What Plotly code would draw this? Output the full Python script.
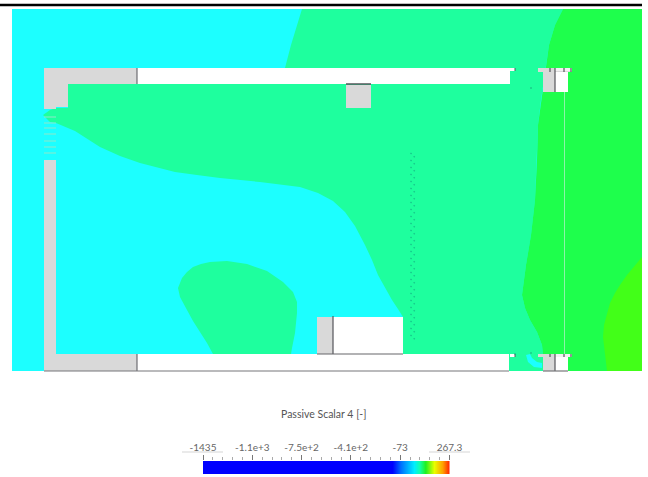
import numpy as np
import plotly.graph_objects as go

# ---- colours of the field bands
CYAN = "#1CFFFF"; TEAL = "#1EFF9E"; GREEN = "#1EFF4C"; LIME = "#42FF18"
GREY = "#D9D9D9"; WHITE = "#FFFFFF"; DARK = "#55555A"

# ---- colour scale
scale_min = -1435.0
scale_max = 267.3
tick_vals = [-1435, -1094.5, -754, -413.6, -73.1, 267.3]
tick_text = ["-1435", "-1.1e+3", "-7.5e+2", "-4.1e+2", "-73", "267.3"]
minor_vals = [-1367, -1299, -1231, -1163, -1026, -958, -890, -822, -686, -618, -550, -482,
              -345, -277, -209, -141, -5, 63, 131, 199]
ramp_stops = [0, 0.766, 0.80, 0.854, 0.875, 0.90, 0.935, 0.969, 1]
ramp_cols = ["#0000FF", "#0000FF", "#0070FF", "#00EEFF", "#10FFB0", "#20F020", "#E8FF00", "#FFA000", "#FF1000"]

# ---- contour bands (x, y in image units)
teal_x = [302, 297, 291, 285, 137, 68, 68, 56, 50, 43, 50, 56, 75, 100, 120, 140, 158, 175, 197, 220, 260, 300,
          318, 333, 345, 355, 365, 372, 378, 385, 392, 398, 403, 403,
          543, 543, 542, 537, 530, 525, 522, 526, 531, 535, 537, 538, 541, 544, 547, 549, 555, 563]
teal_y = [9, 25, 45, 68, 68, 84, 108, 108, 110, 115, 122, 123, 131, 147, 156, 163, 168, 172, 175, 178, 182, 187,
          193, 201, 212, 226, 245, 260, 275, 288, 300, 309, 317, 371,
          371, 355, 345, 332, 320, 308, 295, 265, 235, 200, 160, 125, 100, 80, 60, 45, 25, 9]
green_x = [563, 555, 549, 547, 544, 541, 538, 537, 535, 531, 526, 522, 525, 530, 537, 542, 543, 543, 642, 642]
green_y = [9, 25, 45, 60, 80, 100, 125, 160, 200, 235, 265, 295, 308, 320, 332, 345, 355, 371, 371, 9]
lime_x = [642, 634, 627, 620, 615, 610, 607, 604, 603, 604, 605, 607, 642]
lime_y = [257, 266, 275, 285, 293, 303, 313, 325, 337, 346, 353, 371, 371]
blob_x = [178, 182, 187, 193, 201, 210, 227, 247, 267, 283, 293, 297, 297, 296, 295, 292, 291,
          213, 207, 200, 193, 187, 180]
blob_y = [288, 278, 272, 267, 264, 262, 261, 264, 271, 282, 292, 302, 313, 323, 333, 348, 354,
          354, 343, 332, 321, 310, 297]
spot_x = [526, 530, 532, 537, 542, 542, 534, 528]
spot_y = [355, 354, 358, 362, 363, 368, 367, 362]

# ---- solid geometry (x0, x1, y0, y1)
grey_top = ([44, 137, 137, 68, 68, 56, 56, 44], [68, 68, 84, 84, 107, 107, 109, 109])
grey_low = ([44, 56, 56, 137, 137, 44], [160, 160, 354, 354, 371, 371])
rect_x0 = [137, 137, 555, 555, 333, 510, 510]
rect_x1 = [510, 509, 568, 568, 403, 515, 515]
rect_y0 = [68, 354, 72, 357, 317, 68, 354]
rect_y1 = [84, 371, 92, 371, 354, 71, 357]
grey_x0 = [346, 543, 543, 317, 538, 538]
grey_x1 = [371, 555, 555, 333, 572, 572]
grey_y0 = [85, 72, 357, 317, 68, 354]
grey_y1 = [108, 92, 371, 354, 72, 357]
band_x0 = [555, 555]
band_x1 = [572, 572]
band_y0 = [68, 354]
band_y1 = [71, 357]

dark_segments = [
    ([0, 642], [5, 5], "#000000", 2.5),
    ([137, 137], [68, 84], DARK, 1),
    ([346, 371], [84, 84], DARK, 1.5),
    ([555, 555], [68, 92], DARK, 1.2),
    ([550, 550], [68, 72], DARK, 1.2),
    ([564, 564], [68, 72], DARK, 1.2),
    ([571, 571], [68, 72], DARK, 1.2),
    ([555, 555], [354, 371], DARK, 1.2),
    ([550, 550], [354, 357], DARK, 1.2),
    ([564, 564], [354, 357], DARK, 1.2),
    ([571, 571], [354, 357], DARK, 1.2),
    ([515, 515], [68, 71], DARK, 1),
    ([515, 515], [354, 357], DARK, 1),
    ([333, 333], [316, 354], DARK, 1.2),
    ([137, 137], [354, 371], DARK, 1),
    ([44, 509], [371, 371], "#77777A", 1.2),
    ([543, 568], [371, 371], "#77777A", 1.2),
    ([317, 403], [354, 354], "#66666A", 1.2),
    ([182, 223], [452, 452], "#D5D5D5", 1),
    ([429, 470], [452, 452], "#D5D5D5", 1),
]
vent_y = [117, 123, 128, 134, 141, 147, 153]
louvre_y = [153, 160, 167, 174, 181, 188, 195, 202, 209, 216, 223, 230, 237, 244, 251, 258, 265, 272,
            279, 286, 293, 300, 307, 314, 321, 328, 335]
speck_x = [531, 531, 515]
speck_y = [88, 353, 354]

fig = go.Figure()


def poly(x, y, color):
    fig.add_trace(go.Scatter(x=x, y=y, mode="lines", fill="toself", fillcolor=color,
                             line=dict(width=0), hoverinfo="skip", showlegend=False))


def rects(x0, x1, y0, y1, color):
    for a, b, c, d in zip(x0, x1, y0, y1):
        poly([a, b, b, a], [c, c, d, d], color)


poly([12, 642, 642, 12], [9, 9, 371, 371], CYAN)
poly(teal_x, teal_y, TEAL)
poly(green_x, green_y, GREEN)
poly(lime_x, lime_y, LIME)
poly(blob_x, blob_y, TEAL)
poly(spot_x, spot_y, CYAN)
poly(*grey_top, GREY)
poly(*grey_low, GREY)
rects(rect_x0, rect_x1, rect_y0, rect_y1, WHITE)
rects(grey_x0, grey_x1, grey_y0, grey_y1, GREY)
rects(band_x0, band_x1, band_y0, band_y1, "#F2F2F2")

for vy in vent_y:
    fig.add_trace(go.Scatter(x=[44, 56], y=[vy, vy], mode="lines", line=dict(color="#8FE8C8", width=1),
                             hoverinfo="skip", showlegend=False))
# louvre: short dotted diagonal dashes
lx, ly = [], []
for v in louvre_y:
    lx += [410.5, 415.5, None]
    ly += [v, v + 5, None]
fig.add_trace(go.Scatter(x=lx, y=ly, mode="lines", line=dict(color="#18C48A", width=1.3, dash="1.5px,3px"),
                         hoverinfo="skip", showlegend=False))
fig.add_trace(go.Scatter(x=[564.5, 564.5], y=[92, 354], mode="lines",
                         line=dict(color="#8CF5A8", width=1), hoverinfo="skip", showlegend=False))
for sx, sy, col, w in dark_segments:
    fig.add_trace(go.Scatter(x=sx, y=sy, mode="lines", line=dict(color=col, width=w),
                             hoverinfo="skip", showlegend=False))
fig.add_trace(go.Scatter(x=speck_x, y=speck_y, mode="markers", marker=dict(color="#18A078", size=1.5),
                         hoverinfo="skip", showlegend=False))

# colour bar as a value-scaled heat strip on its own axis
strip_x = np.linspace(scale_min, scale_max, 248)
fig.add_trace(go.Heatmap(x=strip_x, y=[0, 1], z=[strip_x, strip_x], zmin=scale_min, zmax=scale_max,
                         colorscale=[[s, c] for s, c in zip(ramp_stops, ramp_cols)],
                         showscale=False, xaxis="x2", yaxis="y2", hoverinfo="skip"))

W, H = 648, 477
fig.update_layout(
    width=W, height=H, margin=dict(l=0, r=0, t=0, b=0, pad=0), paper_bgcolor="white", plot_bgcolor="white",
    showlegend=False, font=dict(family="Lato", color="#555555", size=10),
    xaxis=dict(range=[0, W], visible=False, domain=[0, 1], automargin=False),
    yaxis=dict(range=[H, 0], visible=False, domain=[0, 1], automargin=False),
    xaxis2=dict(domain=[203 / W, 449.5 / W], anchor="y2", side="top", range=[scale_min, scale_max],
                automargin=False,
                tickmode="array", tickvals=tick_vals, ticktext=tick_text, ticks="outside", ticklen=5,
                tickcolor="#777777", tickwidth=1, tickfont=dict(family="Lato", size=10, color="#666666"),
                showgrid=False, zeroline=False, showline=False,
                minor=dict(tickmode="array", tickvals=minor_vals, ticks="outside", ticklen=3,
                           tickcolor="#AAAAAA", showgrid=False)),
    yaxis2=dict(domain=[(H - 474) / H, (H - 461) / H], anchor="x2", range=[0, 1], visible=False,
                automargin=False),
    annotations=[dict(text="Passive Scalar 4 [-]", x=323.5, y=414, xref="x", yref="y", showarrow=False,
                      font=dict(family="Lato", size=10.5, color="#555555"))],
)
fig.write_html("out.html", config={"displayModeBar": False},
               post_script="document.body.style.margin='0';document.body.style.overflow='hidden';")
